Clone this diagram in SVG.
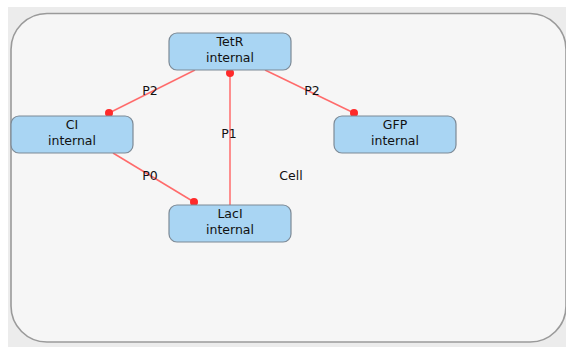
<svg xmlns="http://www.w3.org/2000/svg" width="566" height="347" viewBox="0 0 566 347">
  <style>
    .node rect { fill: #a9d5f3; stroke: #7d8a96; stroke-width: 1.2; }
    .node text, .lbl { font-family: "DejaVu Sans", sans-serif; font-size: 12.5px; fill: #111; text-anchor: middle; }
    .edge { stroke: #ff6b6b; stroke-width: 1.5; fill: none; }
    .dot { fill: #ff2a2a; }
  </style>
  <rect x="0" y="0" width="566" height="347" fill="#ffffff"/>
  <rect x="8" y="7" width="558" height="340" fill="#ececec"/>

  <!-- compartment -->
  <g id="cell">
    <rect x="11" y="13.5" width="555" height="328.5" rx="36" ry="36" fill="#f6f6f6" stroke="#9a9a9a" stroke-width="1.6"/>
    <text class="lbl" x="291" y="180">Cell</text>
  </g>

  <!-- connectors -->
  <g id="edges">
    <line class="edge" x1="195" y1="70" x2="109" y2="113"/>
    <circle class="dot" cx="109" cy="113" r="4"/>
    <text class="lbl" x="150" y="95">P2</text>

    <line class="edge" x1="265" y1="70" x2="354" y2="113"/>
    <circle class="dot" cx="354" cy="113" r="4"/>
    <text class="lbl" x="312" y="95">P2</text>

    <line class="edge" x1="230" y1="205" x2="230" y2="73"/>
    <circle class="dot" cx="230" cy="73" r="4"/>
    <text class="lbl" x="229" y="138">P1</text>

    <line class="edge" x1="113" y1="153" x2="194" y2="202"/>
    <circle class="dot" cx="194" cy="202" r="4"/>
    <text class="lbl" x="150" y="180">P0</text>
  </g>

  <g id="TetR" class="node">
    <rect x="169" y="33" width="122" height="37" rx="8" ry="8"/>
    <text x="230" y="46">TetR</text>
    <text x="230" y="62">internal</text>
  </g>
  <g id="CI" class="node">
    <rect x="11" y="116" width="122" height="37" rx="8" ry="8"/>
    <text x="72" y="129">CI</text>
    <text x="72" y="145">internal</text>
  </g>
  <g id="GFP" class="node">
    <rect x="334" y="116" width="122" height="37" rx="8" ry="8"/>
    <text x="395" y="129">GFP</text>
    <text x="395" y="145">internal</text>
  </g>
  <g id="LacI" class="node">
    <rect x="169" y="205" width="122" height="37" rx="8" ry="8"/>
    <text x="230" y="218">LacI</text>
    <text x="230" y="234">internal</text>
  </g>
</svg>
